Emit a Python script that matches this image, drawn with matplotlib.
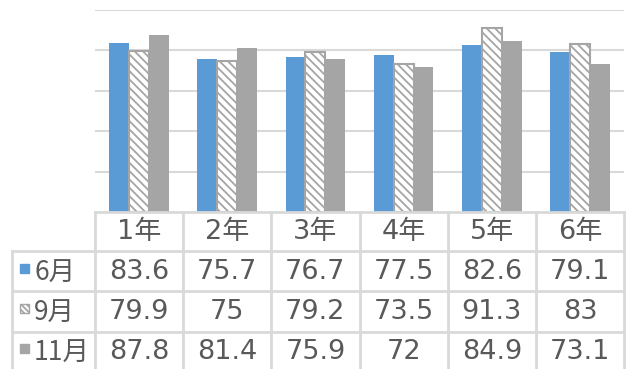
import matplotlib
matplotlib.use('Agg')
import matplotlib.pyplot as plt
from matplotlib.patches import Rectangle
import numpy as np

plt.rcParams['font.family'] = ['DejaVu Sans', 'Noto Sans CJK JP']
plt.rcParams['hatch.linewidth'] = 1.3

grades = ['1年', '2年', '3年', '4年', '5年', '6年']
series = ['6月', '9月', '11月']
jun = [83.6, 75.7, 76.7, 77.5, 82.6, 79.1]
sep = [79.9, 75, 79.2, 73.5, 91.3, 83]
nov = [87.8, 81.4, 75.9, 72, 84.9, 73.1]
yticks = [0, 20, 40, 60, 80, 100]

BLUE = '#5B9BD5'
GRAY = '#A5A5A5'
GRID = '#D9D9D9'
TXT = '#595959'

W, H = 627, 369
fig = plt.figure(figsize=(W / 100, H / 100), dpi=100)

# bar area (pixel layout of the original)
x0, x1, ytop, ybot = 95, 624, 10, 212
ax = fig.add_axes([x0 / W, 1 - ybot / H, (x1 - x0) / W, (ybot - ytop) / H])
ax.set_xlim(0, len(grades))
ax.set_ylim(0, 100)
for t in yticks[1:]:
    ax.axhline(t, color=GRID, lw=1.5, zorder=0)
ax.axis('off')

pos = np.arange(len(grades)) + 0.5
bw = 0.225
ax.bar(pos - bw, jun, bw, color=BLUE, zorder=2)
ax.bar(pos, sep, bw, facecolor='white', edgecolor=GRAY, hatch='\\\\\\\\', lw=1.5, zorder=2)
ax.bar(pos + bw, nov, bw, color=GRAY, zorder=2)

# data table drawn in pixel coordinates
tb = fig.add_axes([0, 0, 1, 1])
tb.set_xlim(0, W)
tb.set_ylim(H, 0)
tb.axis('off')

col_edges = np.linspace(x0, x1, len(grades) + 1)
row_edges = [212, 251, 291, 332, 380]
lbl_x = 12
kw = dict(color=GRID, lw=2, zorder=1)
tb.plot([x0, x1], [row_edges[0]] * 2, **kw)
for y in row_edges[1:4]:
    tb.plot([lbl_x, x1], [y, y], **kw)
for x in col_edges:
    tb.plot([x, x], [row_edges[0], H], **kw)
tb.plot([lbl_x, lbl_x], [row_edges[1], H], **kw)

fs = 19.5
centers = (col_edges[:-1] + col_edges[1:]) / 2
for cx, g in zip(centers, grades):
    tb.text(cx, 232, g, ha='center', va='center', fontsize=fs, color=TXT)

rows = [jun, sep, nov]
styles = [dict(facecolor=BLUE, edgecolor=BLUE),
          dict(facecolor='white', edgecolor=GRAY, hatch='\\\\\\\\\\\\', lw=1),
          dict(facecolor=GRAY, edgecolor=GRAY)]
row_cy = [272, 312, 352]
for name, vals, st, cy in zip(series, rows, styles, row_cy):
    tb.add_patch(Rectangle((20, cy - 8), 9, 9, **st))
    # row labels: narrower CJK font so "11月" fits like the original
    tb.text(34, cy + 1, name, ha='left', va='center', fontsize=19,
            color=TXT, family=['Noto Sans CJK JP'])
    for cx, v in zip(centers, vals):
        tb.text(cx, cy, f'{v:g}', ha='center', va='center', fontsize=fs, color=TXT)

fig.savefig('out.png', dpi=100)
